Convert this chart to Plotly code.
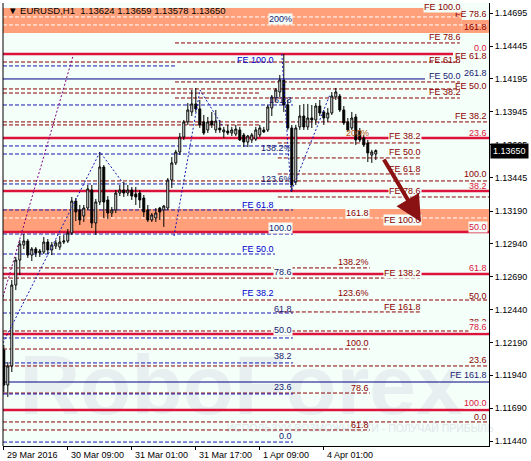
import plotly.graph_objects as go

# ---------------- data ----------------
symbol = "EURUSD,H1"
last_ohlc = ["1.13624", "1.13659", "1.13578", "1.13650"]
current_price = 1.13650

bars = list(range(94))
opens = [1.12133, 1.11866, 1.12011, 1.12627, 1.12817, 1.12932, 1.12962, 1.12855, 1.12901, 1.12871,
         1.12878, 1.12954, 1.12894, 1.12924, 1.12916, 1.12954, 1.12962, 1.13023, 1.13266, 1.13198,
         1.13152, 1.13213, 1.13350, 1.13099, 1.13259, 1.13525, 1.13274, 1.13175, 1.13198, 1.13327,
         1.13350, 1.13327, 1.13350, 1.13320, 1.13327, 1.13289, 1.13198, 1.13122, 1.13137, 1.13213,
         1.13198, 1.13213, 1.13426, 1.13556, 1.13639, 1.13753, 1.13868, 1.13944, 1.14005, 1.13967,
         1.13868, 1.13807, 1.13875, 1.13807, 1.13822, 1.13792, 1.13799, 1.13784, 1.13776, 1.13807,
         1.13769, 1.13715, 1.13731, 1.13738, 1.13769, 1.13807, 1.13807, 1.13974, 1.14050, 1.14096,
         1.14187, 1.13997, 1.13822, 1.13411, 1.13830, 1.13913, 1.13830, 1.13898, 1.13883, 1.13989,
         1.13944, 1.13898, 1.13936, 1.14058, 1.14065, 1.13959, 1.13868, 1.13822, 1.13906, 1.13799,
         1.13746, 1.13708, 1.13616, 1.13624]
highs = [1.12171, 1.12041, 1.12665, 1.12840, 1.12970, 1.13015, 1.12977, 1.12916, 1.12916, 1.12901,
         1.12992, 1.12977, 1.12954, 1.12970, 1.13000, 1.13008, 1.13053, 1.13297, 1.13289, 1.13236,
         1.13236, 1.13388, 1.13388, 1.13282, 1.13639, 1.13540, 1.13304, 1.13221, 1.13350, 1.13388,
         1.13411, 1.13388, 1.13373, 1.13373, 1.13350, 1.13312, 1.13236, 1.13175, 1.13213, 1.13221,
         1.13236, 1.13441, 1.13601, 1.13655, 1.13784, 1.13883, 1.14012, 1.14111, 1.14126, 1.14035,
         1.13921, 1.13906, 1.13944, 1.13959, 1.13883, 1.13830, 1.13845, 1.13830, 1.13845, 1.13830,
         1.13784, 1.13769, 1.13784, 1.13830, 1.13845, 1.13830, 1.13997, 1.14073, 1.14126, 1.14225,
         1.14385, 1.14035, 1.13845, 1.13845, 1.13997, 1.14005, 1.14005, 1.13997, 1.14012, 1.14035,
         1.13959, 1.13974, 1.14096, 1.14126, 1.14081, 1.13989, 1.13898, 1.13944, 1.13929, 1.13822,
         1.13769, 1.13731, 1.13655, 1.13659]
lows = [1.11813, 1.11775, 1.11965, 1.12589, 1.12703, 1.12901, 1.12833, 1.12810, 1.12840, 1.12840,
        1.12863, 1.12863, 1.12855, 1.12901, 1.12894, 1.12939, 1.12947, 1.13008, 1.13114, 1.13084,
        1.13107, 1.13198, 1.13061, 1.13008, 1.13236, 1.13137, 1.13129, 1.13145, 1.13175, 1.13304,
        1.13297, 1.13304, 1.13274, 1.13236, 1.13213, 1.13145, 1.13107, 1.13107, 1.13107, 1.13122,
        1.13069, 1.13198, 1.13365, 1.13540, 1.13616, 1.13731, 1.13845, 1.13913, 1.13944, 1.13822,
        1.13769, 1.13784, 1.13822, 1.13784, 1.13784, 1.13746, 1.13769, 1.13761, 1.13761, 1.13723,
        1.13677, 1.13677, 1.13708, 1.13723, 1.13753, 1.13784, 1.13792, 1.13913, 1.14020, 1.14058,
        1.13944, 1.13807, 1.13335, 1.13388, 1.13807, 1.13807, 1.13807, 1.13822, 1.13845, 1.13913,
        1.13845, 1.13868, 1.13921, 1.14035, 1.13944, 1.13845, 1.13792, 1.13807, 1.13693, 1.13715,
        1.13677, 1.13563, 1.13556, 1.13578]
closes = [1.11866, 1.12011, 1.12627, 1.12817, 1.12939, 1.12962, 1.12855, 1.12901, 1.12871, 1.12886,
          1.12954, 1.12894, 1.12932, 1.12947, 1.12954, 1.12962, 1.13023, 1.13266, 1.13183, 1.13122,
          1.13213, 1.13358, 1.13099, 1.13259, 1.13525, 1.13259, 1.13175, 1.13198, 1.13327, 1.13350,
          1.13327, 1.13350, 1.13304, 1.13297, 1.13274, 1.13183, 1.13122, 1.13160, 1.13175, 1.13183,
          1.13228, 1.13426, 1.13556, 1.13639, 1.13753, 1.13868, 1.13959, 1.14005, 1.13967, 1.13845,
          1.13784, 1.13868, 1.13845, 1.13875, 1.13807, 1.13807, 1.13784, 1.13807, 1.13814, 1.13731,
          1.13715, 1.13761, 1.13769, 1.13807, 1.13822, 1.13792, 1.13982, 1.14058, 1.14111, 1.14187,
          1.13997, 1.13822, 1.13388, 1.13822, 1.13913, 1.13830, 1.13898, 1.13883, 1.13989, 1.13936,
          1.13898, 1.13936, 1.14065, 1.14096, 1.13959, 1.13860, 1.13807, 1.13898, 1.13731, 1.13731,
          1.13693, 1.13632, 1.13639, 1.13650]

time_tick_bars = [0, 16, 32, 48, 64, 80]
time_tick_labels = ["29 Mar 2016", "30 Mar 09:00", "31 Mar 01:00", "31 Mar 17:00", "1 Apr 09:00", "4 Apr 01:00"]

price_ticks = [1.14695, 1.14445, 1.14195, 1.13945, 1.13695, 1.13445, 1.13190,
               1.12940, 1.12690, 1.12440, 1.12190, 1.11940, 1.11690, 1.11440]
price_tick_labels = ["%.5f" % p for p in price_ticks]

# Fibonacci retracement (solid crimson)
retr_levels = [1.14385, 1.13746, 1.13343, 1.13031, 1.12711, 1.12254, 1.11676]
# dark red dashed Fibonacci / expansion levels
dr_upper = [1.14469, 1.14172, 1.14050]
dr_upper_full = [1.14324, 1.14119]
dr_short_left = [1.14088, 1.13845]
dr_full = [1.13868, 1.13419, 1.12513, 1.12277, 1.12011, 1.11585]
dr_fe = [1.13708, 1.13594, 1.13472, 1.12422]
dr_fe_right = [1.13297]
dr_mid = [1.12757, 1.12140, 1.11805, 1.11524]
dr_long = [1.12680]
# navy dashed retracement / extension
navy_dash = [1.13997, 1.13685, 1.13624, 1.13396, 1.13198, 1.13015, 1.12414, 1.12224, 1.12034, 1.11798, 1.11432]
blue_fe_short = [1.14294]
blue_fe = [1.12863]
navy_solid_short = [1.14195]
navy_solid_full = [1.11889]
white_dash_short = [1.14667]
white_dash_full = [1.14606, 1.13137]
# salmon zones (top, bottom)
zone_top_a = (1.14735, 1.14545)
zone_top_b = (1.14644, 1.14545)
zone_mid = (1.13206, 1.13031)

# trend (dotted) lines: bar index, price
purple_x, purple_y = [-0.2, 17.3], [1.12536, 1.14370]
navy_a_x, navy_a_y = [-0.2, 24.05, 29.8], [1.12186, 1.13639, 1.13403]
navy_b_x, navy_b_y = [42.55, 49.05, 54.8], [1.13000, 1.14111, 1.13830]
navy_c_x, navy_c_y = [69.5, 71.8, 81.5], [1.14385, 1.13335, 1.14073]

# forecast arrow (from bar/price -> to bar/price)
arrow_from = (94.8, 1.13594)
arrow_to = (104.3, 1.13107)

# ---------------- styling ----------------
BG = "#F5FFFA"
DR = "#8B0000"
CR = "#DC143C"
NV = "#191970"
BL = "#0000CD"
NVL = "#1818B0"
BR = "#B8551B"
SALMON = "#FFA07A"

LEFT, RIGHT = -0.2, 121.3
X175, X260, X275, X278, X293 = 42.8, 64.0, 67.8, 68.5, 72.3
X370, X420, X425, X453, X460, X462 = 91.5, 104.0, 105.3, 112.3, 114.0, 114.5

shapes = []
# watermark (below everything)
shapes.append(dict(type="rect", xref="paper", yref="paper", x0=-0.02, x1=1.0, y0=0.10, y1=0.21,
                   line=dict(width=0), fillcolor="rgba(0,0,0,0)", layer="below",
                   label=dict(text="<b>RoboForex</b>", textposition="middle center",
                              font=dict(size=84, color="#E7EFF0", family="Liberation Sans, Arial"))))
shapes.append(dict(type="rect", xref="paper", yref="paper", x0=0.47, x1=1.0, y0=0.02, y1=0.062,
                   line=dict(width=0), fillcolor="rgba(0,0,0,0)", layer="below",
                   label=dict(text="ИСПОЛЬЗУЙ ВОЗМОЖНОСТИ - ПОЛУЧАЙ ПРИБЫЛЬ", textposition="middle center",
                              font=dict(size=10.5, color="#DFE8EA", family="Liberation Sans, Arial"))))


def zone(z, x0, x1):
    shapes.append(dict(type="rect", xref="x", yref="y", x0=x0, x1=x1, y0=z[1], y1=z[0],
                       line=dict(width=0), fillcolor=SALMON, layer="below"))


zone(zone_top_a, LEFT, X462)
zone(zone_top_b, X462, RIGHT)
zone(zone_mid, LEFT, RIGHT)


def hl(levels, x0, x1, color, width=1, dash="solid"):
    for lv in levels:
        shapes.append(dict(type="line", xref="x", yref="y", x0=x0, x1=x1, y0=lv, y1=lv,
                           line=dict(color=color, width=width, dash=dash), layer="below"))


DASH = "4px,2px"
hl(white_dash_short, LEFT, X462, "white", 1, DASH)
hl(white_dash_full, LEFT, RIGHT, "white", 1, DASH)
hl(dr_upper, X175, X460, DR, 1, DASH)
hl(dr_upper_full, LEFT, X460, DR, 1, DASH)
hl(dr_short_left, LEFT, X260, DR, 1, DASH)
hl(dr_full, LEFT, RIGHT, DR, 1, DASH)
hl(dr_fe, X278, X420, DR, 1, DASH)
hl(dr_fe_right, X278, RIGHT, DR, 1, DASH)
hl(dr_mid, LEFT, X370, DR, 1, DASH)
hl(dr_long, LEFT, X420, DR, 1, DASH)
hl(navy_dash, LEFT, X293, NVL, 1, DASH)
hl(blue_fe_short, LEFT, X175, NVL, 1, DASH)
hl(blue_fe, LEFT, X275, NVL, 1, DASH)
hl(navy_solid_short, LEFT, X425, "#000080", 1)
hl(navy_solid_full, LEFT, RIGHT, "#000080", 1)
hl(retr_levels[:1], LEFT, X453, CR, 2.5)
hl(retr_levels[1:], LEFT, RIGHT, CR, 2.5)

# left border
shapes.append(dict(type="line", xref="paper", yref="paper", x0=0, x1=0, y0=0, y1=1,
                   line=dict(color="black", width=1), layer="above"))

# labels: (text, price, color, bg)
col_right = [("FE 78.6", 1.14689, DR, False), ("161.8", 1.14591, DR, False), ("0.0", 1.14431, CR, False),
             ("FE 61.8", 1.14370, DR, False), ("261.8", 1.14240, NV, False), ("FE 50.0", 1.14141, DR, False),
             ("FE 38.2", 1.13913, DR, False), ("23.6", 1.13784, CR, False), ("100.0", 1.13472, DR, False),
             ("38.2", 1.13381, CR, False), ("50.0", 1.13069, CR, True), ("61.8", 1.12757, CR, False),
             ("50.0", 1.12544, DR, False), ("38.2", 1.12346, DR, False), ("78.6", 1.12308, CR, True),
             ("23.6", 1.12056, DR, False), ("FE 161.8", 1.11942, NV, False), ("100.0", 1.11729, CR, True),
             ("0.0", 1.11623, DR, False)]
col_462 = [("FE 100.0", 1.14743, DR, True), ("FE 78.6", 1.14514, DR, False), ("FE 61.8", 1.14339, DR, False),
           ("FE 50.0", 1.14218, NV, False), ("FE 38.2", 1.14096, DR, False)]
col_422 = [("FE 38.2", 1.13761, DR, True), ("FE 50.0", 1.13639, DR, False), ("FE 61.8", 1.13510, DR, False),
           ("FE 78.6", 1.13343, DR, True), ("FE 100.0", 1.13122, DR, True), ("FE 138.2", 1.12720, DR, True),
           ("FE 161.8", 1.12460, DR, False)]
col_370 = [("200%", 1.13784, BR, False), ("161.8", 1.13175, DR, True), ("138.2%", 1.12802, DR, False),
           ("123.6%", 1.12566, DR, False), ("100.0", 1.12186, DR, False), ("78.6", 1.11843, DR, False),
           ("61.8", 1.11562, DR, False)]
col_293 = [("200%", 1.14651, NV, True), ("161.8", 1.14035, NV, False), ("138.2%", 1.13670, NV, False),
           ("123.6%", 1.13434, NV, False), ("100.0", 1.13061, NV, True), ("78.6", 1.12726, NV, True),
           ("61.8", 1.12445, NV, False), ("50.0", 1.12285, NV, True), ("38.2", 1.12087, NV, False),
           ("23.6", 1.11851, NV, False), ("0.0", 1.11478, NV, False)]
col_275 = [("FE 100.0", 1.14339, BL, False), ("FE 61.8", 1.13236, BL, False), ("FE 50.0", 1.12901, BL, False),
           ("FE 38.2", 1.12566, BL, False)]

annotations = []


def add_labels(col, xr):
    for text, price, color, bg in col:
        a = dict(x=xr, y=price, xref="x", yref="y", text=text, showarrow=False,
                 xanchor="right", yanchor="middle", font=dict(size=9, color=color), borderpad=0)
        if bg:
            a["bgcolor"] = BG
        annotations.append(a)


add_labels(col_275, X275)
add_labels(col_293, X293)
add_labels(col_370, X370)
add_labels(col_422, 104.55)
add_labels(col_right, 121.05)
add_labels(col_462, X462)

# forecast arrow
annotations.append(dict(x=arrow_to[0], y=arrow_to[1], ax=arrow_from[0], ay=arrow_from[1],
                        xref="x", yref="y", axref="x", ayref="y", text="", showarrow=True,
                        arrowhead=2, arrowsize=1.3, arrowwidth=4, arrowcolor="#8B1212"))

# title
annotations.append(dict(x=0.006, y=0.984, xref="paper", yref="paper", xanchor="left", yanchor="middle",
                        showarrow=False, font=dict(size=9.5, color="black"),
                        text="▼ " + symbol + "\u00a0\u00a0" + " ".join(last_ohlc)))

# time labels (left-aligned at ticks)
for b, t in zip(time_tick_bars, time_tick_labels):
    annotations.append(dict(x=b, y=-0.02, xref="x", yref="paper", xanchor="left", yanchor="middle",
                            xshift=1, showarrow=False, text=t, font=dict(size=9, color="black")))

# current price box
annotations.append(dict(x=1, y=current_price, xref="paper", yref="y", xanchor="left", yanchor="middle",
                        xshift=1, showarrow=False, text="%.5f" % current_price,
                        font=dict(size=9, color="white"), bgcolor="black", borderpad=2))

fig = go.Figure()

fig.add_trace(go.Candlestick(
    x=bars, open=opens, high=highs, low=lows, close=closes,
    increasing=dict(line=dict(color="black", width=1), fillcolor="white"),
    decreasing=dict(line=dict(color="black", width=1), fillcolor="black"),
    whiskerwidth=0, hoverinfo="skip", name=symbol))

DOT = "2px,2px"
fig.add_trace(go.Scatter(x=purple_x, y=purple_y, mode="lines", line=dict(color="#800080", width=1, dash=DOT),
                         hoverinfo="skip"))
for xs, ys in [(navy_a_x, navy_a_y), (navy_b_x, navy_b_y), (navy_c_x, navy_c_y)]:
    fig.add_trace(go.Scatter(x=xs, y=ys, mode="lines", line=dict(color=NVL, width=1, dash=DOT),
                             hoverinfo="skip"))

fig.update_layout(
    width=531, height=461,
    margin=dict(l=3, r=42, t=3, b=15),
    paper_bgcolor="white", plot_bgcolor=BG,
    showlegend=False,
    font=dict(family="Liberation Sans, Arial, sans-serif", size=9, color="black"),
    shapes=shapes, annotations=annotations,
    xaxis=dict(range=[LEFT, RIGHT], showgrid=False, zeroline=False, showline=True, linecolor="black",
               linewidth=1, ticks="outside", ticklen=3, tickcolor="black",
               tickvals=time_tick_bars, ticktext=[""] * len(time_tick_bars),
               rangeslider=dict(visible=False), fixedrange=True),
    yaxis=dict(range=[1.11402, 1.14773], side="right", showgrid=False, zeroline=False, showline=True,
               linecolor="black", linewidth=1, ticks="outside", ticklen=3, tickcolor="black",
               tickvals=price_ticks, ticktext=price_tick_labels, tickfont=dict(size=9),
               fixedrange=True),
)

fig.write_html("out.html", config={"displayModeBar": False},
               post_script="document.body.style.margin='0px';document.body.style.overflow='hidden';")
